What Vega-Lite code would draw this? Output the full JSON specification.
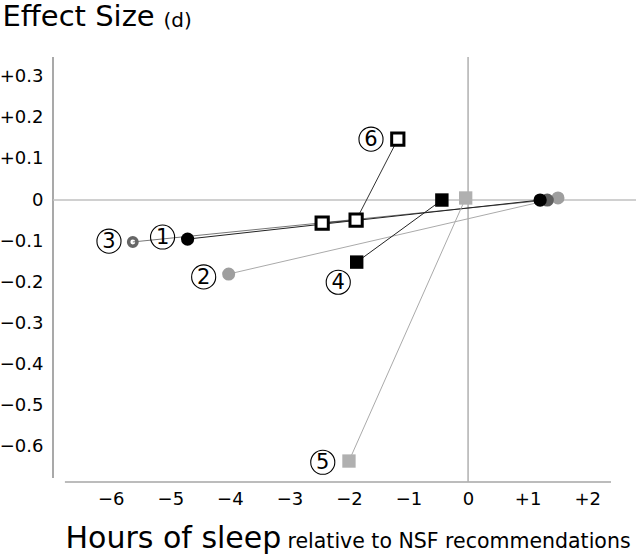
{
  "$schema": "https://vega.github.io/schema/vega-lite/v6.json",
  "width": 583,
  "height": 425,
  "autosize": {"type": "none"},
  "padding": {"left": 53, "top": 57, "right": 0, "bottom": 73},
  "config": {
    "view": {"stroke": null},
    "font": "DejaVu Sans",
    "axis": {"grid": false, "domain": false, "ticks": false, "labelFont": "DejaVu Sans", "titleFont": "DejaVu Sans", "labelColor": "#000", "titleColor": "#000", "titleFontWeight": "normal"}
  },
  "datasets": {
    "guides": [
      {"g": "yaxis", "x": -6.97, "x2": -6.97, "y": -0.676, "y2": 0.348},
      {"g": "xaxis", "x": -6.77, "x2": 2.40, "y": -0.686, "y2": -0.686},
      {"g": "vzero", "x": 0, "x2": 0, "y": -0.686, "y2": 0.348},
      {"g": "hzero", "x": -6.97, "x2": 2.82, "y": 0, "y2": 0}
    ],
    "points": [
      {"s": "2", "x": -4.02, "y": -0.18, "k": "grayCircle"},
      {"s": "2", "x": 1.51, "y": 0.005, "k": "grayCircle"},
      {"s": "3", "x": -5.63, "y": -0.102, "k": "ring"},
      {"s": "3", "x": 1.33, "y": 0.0, "k": "darkCircle"},
      {"s": "1", "x": -4.71, "y": -0.095, "k": "blackCircle"},
      {"s": "1", "x": 1.21, "y": 0.0, "k": "blackCircle"},
      {"s": "5", "x": -2.0, "y": -0.635, "k": "graySquare"},
      {"s": "5", "x": -0.04, "y": 0.005, "k": "graySquare"},
      {"s": "4", "x": -1.87, "y": -0.151, "k": "blackSquare"},
      {"s": "4", "x": -0.44, "y": 0.0, "k": "blackSquare"},
      {"s": "6", "x": -2.45, "y": -0.056, "k": "openSquare"},
      {"s": "6", "x": -1.88, "y": -0.049, "k": "openSquare"},
      {"s": "6", "x": -1.18, "y": 0.148, "k": "openSquare"}
    ],
    "labels": [
      {"n": "1", "x": -5.13, "y": -0.09},
      {"n": "2", "x": -4.44, "y": -0.187},
      {"n": "3", "x": -6.03, "y": -0.1},
      {"n": "4", "x": -2.18, "y": -0.2},
      {"n": "5", "x": -2.44, "y": -0.638},
      {"n": "6", "x": -1.63, "y": 0.148}
    ]
  },
  "resolve": {"axis": {"x": "independent", "y": "independent"}},
  "layer": [
    {
      "resolve": {"scale": {"color": "independent", "size": "independent", "shape": "independent", "strokeWidth": "independent"}},
      "layer": [
        {
          "data": {"name": "guides"},
          "mark": {"type": "rule"},
          "encoding": {
            "x": {"field": "x", "type": "quantitative", "scale": {"domain": [-6.97, 2.82], "nice": false, "zero": false},
              "axis": {"orient": "bottom", "values": [-6, -5, -4, -3, -2, -1, 0, 1, 2], "labelExpr": "datum.value > 0 ? '+' + format(datum.value, 'd') : (datum.value < 0 ? '\u2212' + format(-datum.value, 'd') : '0')", "labelFontSize": 18, "labelPadding": 8,
                "title": "Hours of sleep", "titleFontSize": 30, "titleX": 12, "titleY": 65, "titleAlign": "left", "titleBaseline": "alphabetic", "titleAnchor": "start"}},
            "x2": {"field": "x2"},
            "y": {"field": "y", "type": "quantitative", "scale": {"domain": [-0.686, 0.348], "nice": false, "zero": false},
              "axis": {"orient": "left", "values": [-0.6, -0.5, -0.4, -0.3, -0.2, -0.1, 0, 0.1, 0.2, 0.3], "labelExpr": "datum.value > 0.001 ? '+' + format(datum.value, '.1f') : (datum.value < -0.001 ? '\u2212' + format(-datum.value, '.1f') : '0')", "labelFontSize": 18, "labelPadding": 10,
                "title": "Effect Size", "titleFontSize": 29, "titleAngle": 0, "titleX": -51, "titleY": -32, "titleAlign": "left", "titleBaseline": "alphabetic", "titleAnchor": "start"}},
            "y2": {"field": "y2"},
            "color": {"field": "g", "type": "nominal", "legend": null, "scale": {"domain": ["yaxis", "xaxis", "vzero", "hzero"], "range": ["#8c8c8c", "#a6a6a6", "#b0b0b0", "#c0c0c0"]}},
            "strokeWidth": {"field": "g", "type": "nominal", "legend": null, "scale": {"domain": ["yaxis", "xaxis", "vzero", "hzero"], "range": [1.5, 1.5, 1.2, 2]}}
          }
        },
        {
          "data": {"name": "points"},
          "mark": {"type": "line", "strokeWidth": 1},
          "encoding": {
            "x": {"field": "x", "type": "quantitative"},
            "y": {"field": "y", "type": "quantitative"},
            "detail": {"field": "s"},
            "order": {"field": "x"},
            "color": {"field": "s", "type": "nominal", "legend": null, "scale": {"domain": ["1", "2", "3", "4", "5", "6"], "range": ["#222222", "#aaaaaa", "#777777", "#222222", "#aaaaaa", "#333333"]}}
          }
        },
        {
          "data": {"name": "points"},
          "transform": [{"filter": "datum.k != 'ring' && datum.k != 'openSquare'"}],
          "mark": {"type": "point", "filled": true, "opacity": 1},
          "encoding": {
            "x": {"field": "x", "type": "quantitative"},
            "y": {"field": "y", "type": "quantitative"},
            "shape": {"field": "k", "type": "nominal", "legend": null, "scale": {"domain": ["grayCircle", "darkCircle", "blackCircle", "graySquare", "blackSquare"], "range": ["circle", "circle", "circle", "square", "square"]}},
            "color": {"field": "k", "type": "nominal", "legend": null, "scale": {"domain": ["grayCircle", "darkCircle", "blackCircle", "graySquare", "blackSquare"], "range": ["#9e9e9e", "#5e5e5e", "#000000", "#b0b0b0", "#000000"]}},
            "size": {"field": "k", "type": "nominal", "legend": null, "scale": {"domain": ["grayCircle", "darkCircle", "blackCircle", "graySquare", "blackSquare"], "range": [170, 180, 180, 200, 185]}}
          }
        },
        {
          "data": {"name": "points"},
          "transform": [{"filter": "datum.k == 'ring'"}],
          "mark": {"type": "point", "shape": "circle", "filled": false, "stroke": "#666666", "strokeWidth": 3.5, "size": 70, "opacity": 1},
          "encoding": {
            "x": {"field": "x", "type": "quantitative"},
            "y": {"field": "y", "type": "quantitative"}
          }
        },
        {
          "data": {"name": "points"},
          "transform": [{"filter": "datum.k == 'openSquare'"}],
          "mark": {"type": "point", "shape": "square", "filled": true, "fill": "#ffffff", "stroke": "#000000", "strokeWidth": 3, "size": 150, "opacity": 1},
          "encoding": {
            "x": {"field": "x", "type": "quantitative"},
            "y": {"field": "y", "type": "quantitative"}
          }
        },
        {
          "data": {"name": "labels"},
          "mark": {"type": "point", "shape": "circle", "filled": false, "stroke": "#000000", "strokeWidth": 1.1, "size": 580, "opacity": 1},
          "encoding": {
            "x": {"field": "x", "type": "quantitative"},
            "y": {"field": "y", "type": "quantitative"}
          }
        },
        {
          "data": {"name": "labels"},
          "mark": {"type": "text", "fontSize": 21, "font": "DejaVu Sans", "align": "center", "baseline": "middle", "dy": 1, "color": "#000000"},
          "encoding": {
            "x": {"field": "x", "type": "quantitative"},
            "y": {"field": "y", "type": "quantitative"},
            "text": {"field": "n"}
          }
        }
      ]
    },
    {
      "data": {"name": "guides"},
      "mark": {"type": "rule", "opacity": 0},
      "encoding": {
        "x": {"field": "x", "type": "quantitative",
          "axis": {"orient": "bottom", "labels": false, "title": "relative to NSF recommendations", "titleFontSize": 20.5, "titleX": 234, "titleY": 65, "titleAlign": "left", "titleBaseline": "alphabetic", "titleAnchor": "start"}},
        "y": {"field": "y", "type": "quantitative",
          "axis": {"orient": "left", "labels": false, "title": "(d)", "titleFontSize": 20, "titleAngle": 0, "titleX": 110, "titleY": -31, "titleAlign": "left", "titleBaseline": "alphabetic", "titleAnchor": "start"}}
      }
    }
  ]
}
